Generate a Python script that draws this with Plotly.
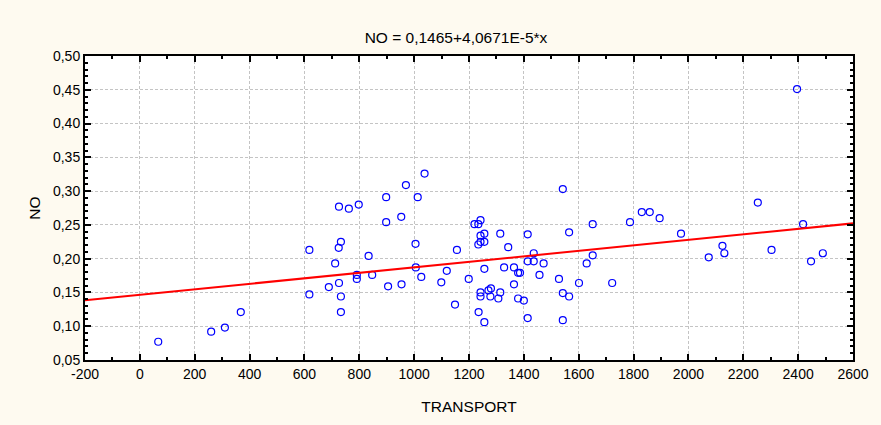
import plotly.graph_objects as go

# Data
transport = [67, 260, 310, 368, 618, 618, 689, 712, 726, 725, 733, 726, 733, 733,
             762, 798, 791, 791, 834, 847, 898, 898, 905, 953, 954, 970, 1013, 1005,
             1006, 1026, 1038, 1156, 1119, 1099, 1199, 1149, 1220, 1234, 1242, 1242,
             1256, 1234, 1242, 1256, 1314, 1343, 1256, 1328, 1364, 1379, 1386, 1364,
             1242, 1242, 1271, 1280, 1278, 1314, 1307, 1235, 1256, 1379, 1400, 1414,
             1414, 1436, 1414, 1436, 1472, 1457, 1542, 1565, 1528, 1542, 1565, 1542,
             1601, 1651, 1651, 1629, 1722, 1787, 1830, 1859, 1895, 1973, 2074, 2124,
             2131, 2253, 2303, 2396, 2418, 2447, 2490]
no_vals = [0.077, 0.092, 0.098, 0.121, 0.213, 0.147, 0.158, 0.193, 0.277, 0.216, 0.225,
           0.164, 0.144, 0.121, 0.274, 0.280, 0.176, 0.170, 0.204, 0.176, 0.291, 0.254,
           0.159, 0.262, 0.162, 0.309, 0.291, 0.222, 0.187, 0.173, 0.326, 0.213, 0.182,
           0.165, 0.170, 0.132, 0.251, 0.251, 0.257, 0.234, 0.237, 0.221, 0.225, 0.225,
           0.237, 0.217, 0.185, 0.187, 0.187, 0.179, 0.179, 0.162, 0.150, 0.144, 0.153,
           0.156, 0.144, 0.150, 0.141, 0.121, 0.106, 0.141, 0.138, 0.112, 0.236, 0.208,
           0.196, 0.196, 0.193, 0.176, 0.303, 0.239, 0.170, 0.149, 0.144, 0.109, 0.164,
           0.251, 0.205, 0.193, 0.164, 0.254, 0.269, 0.269, 0.260, 0.237, 0.202, 0.219,
           0.208, 0.283, 0.213, 0.451, 0.251, 0.196, 0.208]

intercept = 0.1465
slope = 4.0671e-5
line_x = [-200, 2600]
line_y = [intercept + slope * v for v in line_x]

x_tickvals = [-200, 0, 200, 400, 600, 800, 1000, 1200, 1400, 1600, 1800, 2000, 2200, 2400, 2600]
x_ticktext = ["-200", "0", "200", "400", "600", "800", "1000", "1200", "1400", "1600",
              "1800", "2000", "2200", "2400", "2600"]
y_tickvals = [0.05, 0.10, 0.15, 0.20, 0.25, 0.30, 0.35, 0.40, 0.45, 0.50]
y_ticktext = ["0,05", "0,10", "0,15", "0,20", "0,25", "0,30", "0,35", "0,40", "0,45", "0,50"]

FONT = "Liberation Sans, Arial"

fig = go.Figure()
fig.add_trace(go.Scatter(
    x=transport, y=no_vals, mode="markers",
    marker=dict(symbol="circle-open", size=7, color="#0000FF", line=dict(width=1.2, color="#0000FF")),
    showlegend=False, hoverinfo="skip"))
fig.add_trace(go.Scatter(
    x=line_x, y=line_y, mode="lines",
    line=dict(color="#FF0000", width=2), showlegend=False, hoverinfo="skip"))

axis_common = dict(
    showline=True, linecolor="black", linewidth=2, mirror="ticks",
    ticks="inside", ticklen=6, tickwidth=1.5, tickcolor="black",
    showgrid=True, gridcolor="#C4C4C4", griddash="3px,2px", gridwidth=1,
    zeroline=False, ticklabeloverflow="allow",
    tickfont=dict(family=FONT, size=14, color="black"),
)

fig.update_layout(
    width=881, height=425,
    margin=dict(l=85, r=15, t=56, b=61),
    paper_bgcolor="#FEFAF0",
    plot_bgcolor="white",
    title=dict(text="NO = 0,1465+4,0671E-5*x", x=456 / 881, xanchor="center", y=1 - 38 / 425, yanchor="middle",
               font=dict(family=FONT, size=15.5, color="black")),
    xaxis=dict(range=[-200, 2600], tickmode="array", tickvals=x_tickvals, ticktext=x_ticktext,
               minor=dict(ticks="inside", dtick=100, tick0=0, ticklen=3, tickcolor="black", showgrid=False),
               title=dict(text="TRANSPORT", font=dict(family=FONT, size=15.5, color="black"), standoff=20),
               **axis_common),
    yaxis=dict(range=[0.05, 0.50], tickmode="array", tickvals=y_tickvals, ticktext=y_ticktext,
               minor=dict(ticks="inside", dtick=0.01, tick0=0.05, ticklen=3, tickcolor="black", showgrid=False),
               title=dict(text="NO", font=dict(family=FONT, size=15.5, color="black"), standoff=9),
               **axis_common),
)

fig.write_html("out.html", config={"displayModeBar": False},
               post_script="document.body.style.margin='0';document.body.style.overflow='hidden';")
